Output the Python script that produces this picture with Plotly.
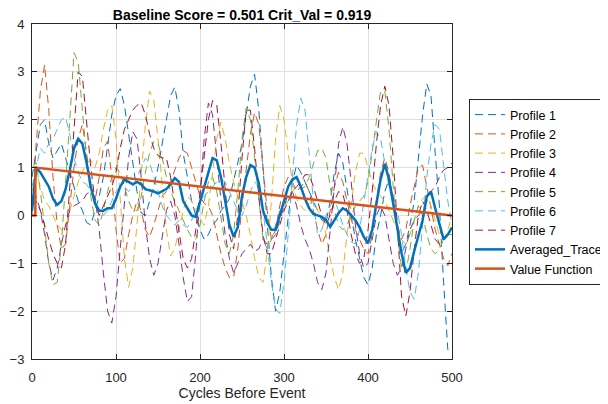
import plotly.graph_objects as go

cycles = list(range(0, 501, 5))

profile_1 = [0.8, 1.4, 1.9, 2.0, 1.5, 1.2, 1.35, 1.5, 1.2, 0.9,
             0.6, 0.3, 0.1, -0.15, -0.2, 0.1, 0.4, 0.8, 1.5, 2.1,
             2.5, 2.65, 2.3, 1.7, 1.0, 0.5, 0.05, 0.0, 0.3, 0.6,
             1.0, 1.5, 2.0, 2.5, 2.68, 2.2, 1.3, 0.8, 0.3, 0.0,
             -0.3, -0.5, -0.4, -0.2, -0.1, 0.1, 0.2, 0.35, 0.7, 1.1,
             1.5, 2.1, 2.7, 2.95, 2.2, 1.0, -0.2, -1.3, -2.0, -1.6,
             -0.8, -0.1, 0.7, 1.05, 0.9, 0.7, 0.5, 0.3, 0.1, -0.1,
             -0.15, 0.3, 0.9, 1.3, 1.1, 0.5, 0.0, -0.5, -0.9, -1.3,
             -1.45, -1.1, -0.4, 0.0, 0.5, 0.75, 0.4, -0.3, -0.8, -0.6,
             -0.2, 0.3, 1.2, 2.1, 2.75, 2.5, 1.3, 0.2, -1.4, -2.8,
             -2.9]

profile_2 = [0.0, 1.5, 2.6, 3.15, 2.2, 0.8, -0.2, -0.7, -0.6, 0.2,
             1.0, 1.6, 1.9, 1.3, 0.6, 0.3, 0.8, 1.4, 1.55, 0.8,
             -0.3, -1.0, -0.9, -0.4, 0.0, 0.3, 0.1, -0.3, -0.45, -0.2,
             0.1, 0.4, 0.5, 0.7, 0.95, 1.2, 1.35, 1.3, 1.0, 0.7,
             0.4, 0.25, 0.2, 0.0, -0.4, -0.8, -1.1, -1.3, -1.3, -0.7,
             0.2, 1.0, 1.7, 2.15, 1.9, 1.0, 0.1, -0.5, -0.3, 0.2,
             0.6, 0.8, 0.7, 0.5, 0.6, 0.7, 0.5, 0.1, -0.3, -0.6,
             -0.4, 0.1, 0.6, 0.9, 0.7, 0.3, -0.1, -0.3, -0.5, -0.7,
             -0.8, -0.4, 0.3, 0.9, 1.2, 0.9, 0.3, -0.2, -0.5, -0.3,
             0.2, 0.6, 1.0, 1.05, 0.6, 0.1, -0.3, -0.6, -0.9, -1.05,
             -0.8]

profile_3 = [0.5, 0.9, 0.6, 0.3, 0.2, 0.0, -0.2, -0.3, -0.25, 0.1,
             0.4, 0.7, 0.9, 1.1, 1.15, 1.0, 1.3, 1.8, 2.2, 2.3,
             1.6, 0.4, -0.9, -1.5, -1.1, -0.2, 0.8, 1.9, 2.6, 2.4,
             1.6, 0.6, -0.3, -0.85, -0.7, -0.3, 0.1, 0.4, 0.3, 0.1,
             -0.1, -0.2, 0.2, 0.9, 1.6, 1.95, 1.6, 1.1, 0.7, 0.4,
             0.3, 0.0, -0.4, -0.9, -1.3, -1.4, -0.8, 0.3, 1.6, 2.3,
             2.0, 1.3, 0.7, 0.35, 0.2, 0.1, 0.25, 0.3, 0.1, 0.0,
             -0.4, -0.9, -1.3, -1.55, -1.2, -0.4, 0.3, 0.9, 1.3, 1.3,
             1.0, 0.7, 0.5, 0.4, 0.3, 0.1, -0.1, -0.3, -0.5, -0.6,
             -0.4, -0.1, 0.2, 0.35, 0.4, 0.2, -0.1, -0.4, -0.5, -0.3,
             0.0]

profile_4 = [0.3, 0.4, 0.1, -0.4, -1.0, -1.35, -1.1, -0.6, -0.2, 0.1,
             0.2, 0.25, 0.3, 0.45, 0.5, 0.4, -0.3, -1.2, -2.0, -2.25,
             -1.7, -0.7, 0.3, 1.2, 1.75, 1.6, 0.8, -0.2, -0.9, -1.25,
             -1.0, -0.4, 0.1, 0.3, 0.0, -0.6, -1.3, -1.8, -1.7, -0.8,
             0.4, 1.6, 2.35, 2.1, 1.2, 0.3, -0.4, -0.9, -1.2, -1.0,
             -0.8, -0.7, -0.6, -0.75, -0.7, -0.5, -0.6, -0.5, -0.4, -0.1,
             0.2, 0.45, 0.5, 0.2, -0.2, -0.5, -0.7, -1.0, -1.4, -1.55,
             -1.2, -0.3, 0.7, 1.5, 1.85, 1.5, 0.7, -0.2, -0.8, -1.1,
             -1.0, -0.5, 0.0, 0.2, 0.0, -0.5, -1.0, -1.25, -1.1, -0.7,
             -0.3, -0.1, 0.0, 0.1, 0.3, 0.5, 0.6, 0.8, 0.95, 1.0,
             1.1]

profile_5 = [1.0, 1.1, 0.5, -0.3, -1.0, -1.45, -1.4, -0.6, 0.6, 2.0,
             3.4, 3.2, 2.2, 1.2, 0.4, -0.1, -0.2, 0.1, 0.5, 0.8,
             1.0, 0.9, 0.6, 0.3, 0.1, 0.1, 0.4, 0.9, 1.3, 1.55,
             1.5, 1.2, 0.8, 0.5, 0.3, 0.1, -0.1, -0.3, -0.45, -0.5,
             -0.2, 0.3, 0.7, 0.8, 0.5, -0.1, -0.6, -0.8, -0.4, 0.5,
             1.6, 2.25, 2.0, 1.2, 0.3, -0.5, -0.7, -0.5, -0.2, 0.1,
             0.2, 0.3, 0.5, 0.6, 0.55, 0.6, 0.8, 1.1, 1.35, 1.4,
             1.2, 0.6, 0.1, -0.2, -0.3, -0.2, 0.0, 0.2, 0.3, 0.4,
             0.7, 1.3, 2.0, 2.6, 2.6, 1.8, 0.6, -0.4, -1.1, -1.2,
             -0.7, -0.1, 0.2, 0.0, -0.4, -0.7, -0.8, -0.7, -0.5, -0.4,
             -0.4]

profile_6 = [0.6, 1.0, 1.4, 1.3, 1.5, 1.6, 1.8, 2.0, 2.05, 1.7,
             1.2, 0.9, 0.7, 0.65, 0.5, 0.3, 0.1, 0.0, 0.1, 0.3,
             0.5, 0.6, 0.6, 0.5, 0.6, 0.8, 1.0, 1.2, 1.1, 0.8,
             0.5, 0.2, 0.0, -0.1, -0.2, -0.1, -0.2, -0.25, -0.1, 0.1,
             0.3, 0.4, 0.5, 0.6, 0.7, 0.75, 0.7, 0.5, 0.3, 0.1,
             0.0, 0.2, 0.5, 0.7, 0.6, 0.1, -0.6, -1.4, -1.95, -2.05,
             -1.4, -0.4, 0.8, 1.9, 2.45, 2.2, 1.3, 0.3, -0.4, -0.3,
             0.0, 0.2, 0.3, 0.1, -0.2, -0.4, -0.55, -0.6, -0.3, 0.3,
             0.9, 1.4, 1.75, 1.6, 1.1, 0.6, 0.3, 0.1, -0.4, -1.1,
             -1.6, -1.75, -1.2, -0.2, 0.8, 1.5, 1.9, 1.8, 1.1, 0.3,
             -0.2]

profile_7 = [0.2, 0.3, 0.1, -0.2, -0.5, -0.8, -1.0, -1.1, -0.6, 0.6,
             2.0, 3.0, 2.9, 2.0, 1.0, 0.3, 0.0, 0.2, 0.4, 0.6,
             0.9, 1.4, 1.8, 2.0, 2.2, 2.3, 2.35, 2.1, 1.7, 1.4,
             1.25, 1.2, 1.2, 0.8, 0.2, -0.4, -0.9, -1.1, -0.9, -0.3,
             0.5, 1.3, 2.0, 2.4, 2.3, 1.5, 0.5, -0.4, -0.7, 0.0,
             1.2, 2.2, 2.2, 1.4, 0.4, -0.4, -0.8, -0.8, -0.5, -0.2,
             0.1, 0.3, 0.5, 0.6, 0.7, 0.85, 0.85, 0.6, 0.3, 0.0,
             -0.2, 0.0, 0.3, 0.5, 0.45, 0.1, -0.4, -0.8, -1.0, -0.9,
             -0.3, 0.5, 1.5, 2.3, 2.7, 2.3, 1.2, -0.3, -1.7, -2.1,
             -1.6, -0.7, 0.0, 0.3, 0.1, -0.2, -0.5, -0.6, -0.5, -0.4,
             -0.3]

averaged_trace = [0.1, 1.0, 0.9, 0.75, 0.6, 0.35, 0.22, 0.3, 0.55, 0.95,
                  1.4, 1.6, 1.5, 1.1, 0.6, 0.25, 0.1, 0.1, 0.15, 0.15,
                  0.35, 0.6, 0.75, 0.7, 0.65, 0.7, 0.65, 0.55, 0.53, 0.5,
                  0.46, 0.5, 0.55, 0.65, 0.78, 0.7, 0.3, 0.15, 0.0, -0.03,
                  0.3, 0.6, 0.9, 1.2, 1.15, 0.8, 0.3, -0.2, -0.44, -0.25,
                  0.4, 0.8, 1.05, 1.0, 0.67, 0.1, -0.15, -0.3, -0.3, 0.0,
                  0.25, 0.6, 0.75, 0.8, 0.6, 0.35, 0.15, 0.03, 0.0, -0.03,
                  -0.1, -0.24, -0.1, 0.05, 0.15, 0.1, 0.0, -0.1, -0.25, -0.45,
                  -0.58, -0.3, 0.25, 0.75, 1.08, 0.75, 0.25, -0.3, -0.79, -1.2,
                  -1.1, -0.75, -0.4, -0.1, 0.4, 0.5, 0.15, -0.2, -0.5, -0.4,
                  -0.25]

value_x = [0, 4, 4, 500]
value_y = [0.0, 0.0, 1.0, 0.0]

profile_names = ["Profile 1", "Profile 2", "Profile 3", "Profile 4",
                 "Profile 5", "Profile 6", "Profile 7"]
profile_colors = ["#0072BD", "#D95319", "#EDB120", "#7E2F8E",
                  "#77AC30", "#4DBEEE", "#A2142F"]
profiles = [profile_1, profile_2, profile_3, profile_4,
            profile_5, profile_6, profile_7]

x_ticks = [0, 100, 200, 300, 400, 500]
y_ticks = [-3, -2, -1, 0, 1, 2, 3, 4]

fig = go.Figure()
for name, vals, col in zip(profile_names, profiles, profile_colors):
    fig.add_trace(go.Scatter(x=cycles, y=vals, mode="lines", name=name,
                             line=dict(color=col, width=1, dash="8px,5px")))
fig.add_trace(go.Scatter(x=cycles, y=averaged_trace, mode="lines",
                         name="Averaged_Trace",
                         line=dict(color="#0072BD", width=2.5)))
fig.add_trace(go.Scatter(x=value_x, y=value_y, mode="lines",
                         name="Value Function",
                         line=dict(color="#D95319", width=2.5)))

axis_common = dict(showgrid=True, gridcolor="#dfdfdf", gridwidth=1,
                   zeroline=False, showline=True, linecolor="#262626",
                   linewidth=1, mirror="ticks", ticks="inside", ticklen=5,
                   tickcolor="#262626", tickfont=dict(size=13, color="#262626"))

# The page body has an 8px margin, so the figure is sized to fit the window.
fig.update_layout(
    width=600, height=396,
    margin=dict(l=24, r=156, t=16, b=45, autoexpand=False),
    paper_bgcolor="white", plot_bgcolor="white",
    font=dict(family="Liberation Sans, Arial, sans-serif", size=13, color="#262626"),
    title=dict(text="<b>Baseline Score = 0.501 Crit_Val = 0.919</b>",
               x=0.5, xref="paper", xanchor="center",
               y=1 - 7.4 / 396, yref="container", yanchor="middle",
               font=dict(size=14, color="#000000")),
    showlegend=True,
    legend=dict(x=(461 - 24) / 420, xanchor="left",
                y=(351 - 184) / 335, yanchor="middle",
                bordercolor="#262626", borderwidth=1, bgcolor="white",
                font=dict(size=12.5, color="#000000")),
    xaxis=dict(range=[0, 500], tickvals=x_ticks, ticklabelstandoff=6,
               title=dict(text="Cycles Before Event", font=dict(size=14, color="#262626"),
                          standoff=4),
               **axis_common),
    yaxis=dict(range=[-3, 4], tickvals=y_ticks, ticklabelstandoff=4,
               **axis_common),
)

fig.write_html("out.html", config={"displayModeBar": False})
